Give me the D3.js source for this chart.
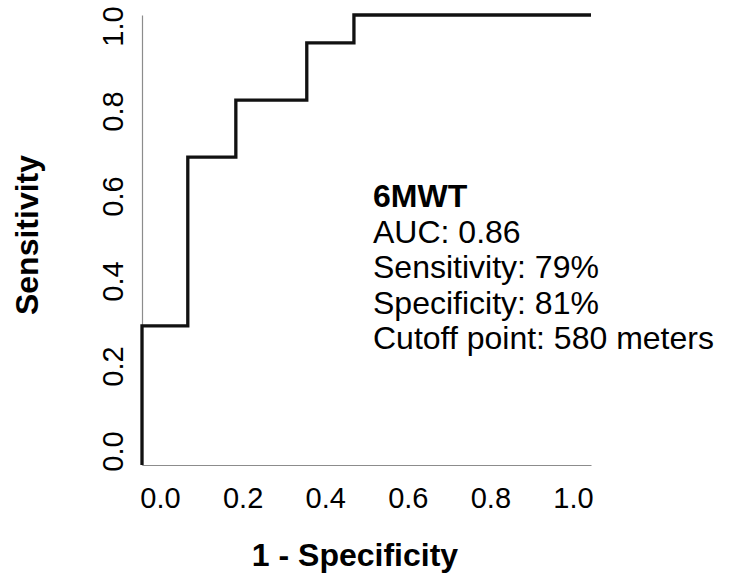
<!DOCTYPE html>
<html>
<head>
<meta charset="utf-8">
<script src="https://cdn.jsdelivr.net/npm/d3@7"></script>
<style>
  body { margin: 0; background: #fff; }
  svg { display: block; font-family: Arial, "Liberation Sans", sans-serif; }
  .tick text { fill: #000; }
</style>
</head>
<body>
<div id="chart"></div>
<script>
// ROC curve, 6MWT
const fpr = [0, 0, 0.102, 0.209, 0.367, 0.472, 1];
const tpr = [0, 0.309, 0.684, 0.811, 0.938, 1, 1];
const ticks = [0, 0.2, 0.4, 0.6, 0.8, 1.0];
const noteTitle = '6MWT';
const noteLines = ['AUC: 0.86', 'Sensitivity: 79%', 'Specificity: 81%', 'Cutoff point: 580 meters'];

const W = 741, H = 579;

const svg = d3.select('#chart').append('svg')
  .attr('width', W)
  .attr('height', H);

// plot frame
let x = d3.scaleLinear().domain([0, 1]).range([142, 591]);
let y = d3.scaleLinear().domain([0, 1]).range([465, 15]);

// tick labels sit a little inside the frame
let xLab = d3.scaleLinear().domain([0, 1]).range([160, 573]);
let yLab = d3.scaleLinear().domain([0, 1]).range([451, 26]);

// axis lines
svg.append('g')
  .attr('transform', 'translate(0,' + y(0) + ')')
  .call(d3.axisBottom(x).tickValues([]).tickSizeOuter(0))
  .select('.domain').attr('stroke', '#8c8c8c').attr('stroke-width', 1.2);

svg.append('g')
  .attr('transform', 'translate(' + x(0) + ',0)')
  .call(d3.axisLeft(y).tickValues([]).tickSizeOuter(0))
  .select('.domain').attr('stroke', '#8c8c8c').attr('stroke-width', 1.2);

// tick labels
let gx = svg.append('g')
  .attr('transform', 'translate(0,488)')
  .call(d3.axisBottom(xLab).tickValues(ticks).tickSize(0).tickFormat(d3.format('.1f')));
gx.select('.domain').remove();
gx.selectAll('text')
  .attr('dy', 0)
  .attr('y', 20)
  .style('font-size', '29px')
  .style('font-family', 'Arial, "Liberation Sans", sans-serif');

let gy = svg.append('g')
  .attr('transform', 'translate(123,0)')
  .call(d3.axisLeft(yLab).tickValues(ticks).tickSize(0).tickFormat(d3.format('.1f')));
gy.select('.domain').remove();
gy.selectAll('.tick text')
  .attr('x', 0)
  .attr('dy', 0)
  .attr('text-anchor', 'middle')
  .attr('transform', 'rotate(-90)')
  .style('font-size', '29px')
  .style('font-family', 'Arial, "Liberation Sans", sans-serif');

// ROC step line
let line = d3.line()
  .x(function (d, i) { return x(d); })
  .y(function (d, i) { return y(tpr[i]); })
  .curve(d3.curveStepAfter);

svg.append('path')
  .datum(fpr)
  .attr('d', line)
  .attr('fill', 'none')
  .attr('stroke', '#111')
  .attr('stroke-width', 3.3);

// axis titles
svg.append('text')
  .attr('x', 355)
  .attr('y', 566)
  .attr('text-anchor', 'middle')
  .style('font-size', '32px')
  .style('font-weight', 'bold')
  .text('1 - Specificity');

svg.append('text')
  .attr('transform', 'translate(38,235) rotate(-90)')
  .attr('text-anchor', 'middle')
  .style('font-size', '32px')
  .style('font-weight', 'bold')
  .text('Sensitivity');

// annotation
let note = svg.append('g').attr('transform', 'translate(373,207)');
note.append('text')
  .style('font-size', '32px')
  .style('font-weight', 'bold')
  .text(noteTitle);

note.selectAll('.line')
  .data(noteLines)
  .enter().append('text')
  .attr('class', 'line')
  .attr('y', function (d, i) { return (i + 1) * 35.6; })
  .style('font-size', '32px')
  .text(function (d) { return d; });
</script>
</body>
</html>
